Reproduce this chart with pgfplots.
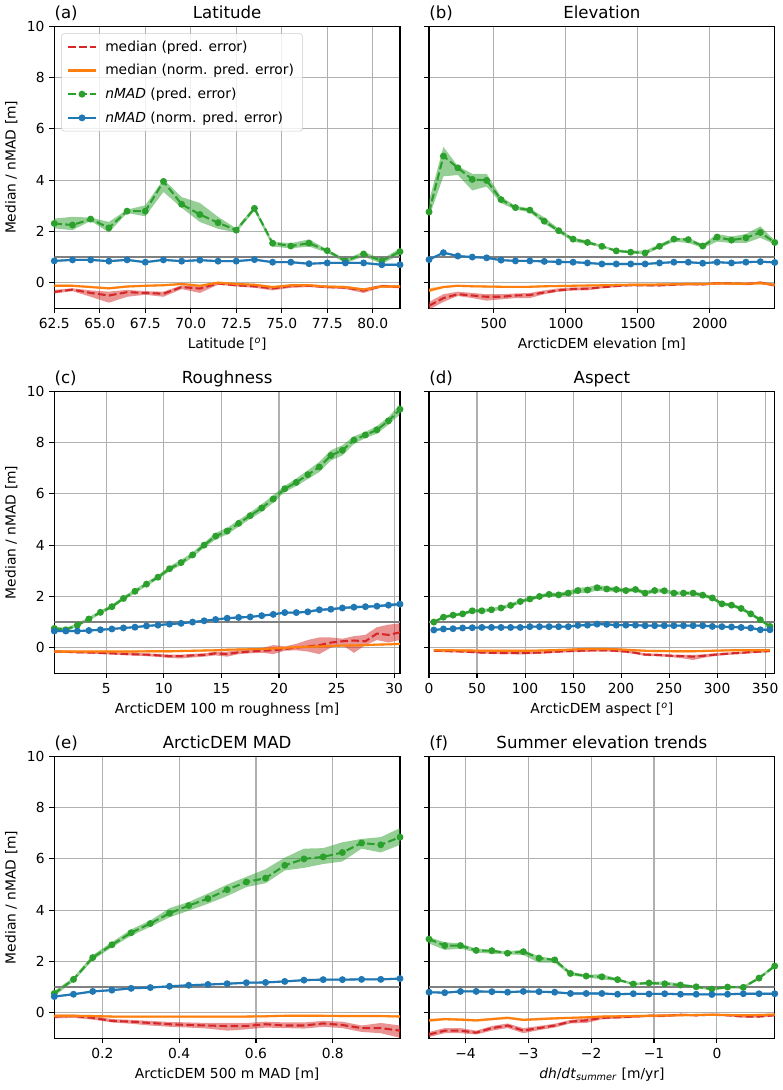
\documentclass[border=0pt]{standalone}
\usepackage{pgfplots}
\pgfplotsset{compat=1.18}
\usepackage{pgfplotstable}
\usepgfplotslibrary{fillbetween}
\usepackage{fontspec}
\setmainfont{DejaVu Sans}

\definecolor{tred}{HTML}{D62728}
\definecolor{torange}{HTML}{FF7F0E}
\definecolor{tgreen}{HTML}{2CA02C}
\definecolor{tblue}{HTML}{1F77B4}

% columns: x, median(pred) lo hi, median(norm) lo hi, nMAD(pred) lo hi, nMAD(norm) lo hi
\pgfplotstableread{
x md mdl mdh mn mnl mnh g gl gh b bl bh
62.5 -0.36 -0.42 -0.28 -0.12 -0.16 -0.08 2.31 2.12 2.50 0.85 0.81 0.89
63.5 -0.27 -0.33 -0.22 -0.12 -0.16 -0.08 2.25 2.05 2.57 0.89 0.85 0.93
64.5 -0.40 -0.55 -0.30 -0.17 -0.21 -0.13 2.48 2.41 2.54 0.89 0.85 0.93
65.5 -0.50 -0.78 -0.35 -0.22 -0.26 -0.18 2.14 1.96 2.37 0.84 0.80 0.88
66.5 -0.37 -0.55 -0.28 -0.15 -0.19 -0.11 2.79 2.72 2.85 0.89 0.85 0.93
67.5 -0.40 -0.47 -0.33 -0.12 -0.16 -0.08 2.79 2.59 3.02 0.80 0.76 0.84
68.5 -0.43 -0.55 -0.35 -0.10 -0.14 -0.06 3.95 3.54 4.03 0.89 0.85 0.93
69.5 -0.17 -0.25 -0.10 -0.05 -0.09 -0.01 3.06 2.92 3.34 0.84 0.80 0.88
70.5 -0.23 -0.40 -0.15 -0.12 -0.16 -0.08 2.66 2.37 3.11 0.88 0.84 0.92
71.5 -0.03 -0.08 0.02 0.00 -0.04 0.04 2.34 2.10 2.57 0.84 0.80 0.88
72.5 -0.10 -0.15 -0.05 -0.05 -0.09 -0.01 2.05 1.96 2.12 0.84 0.80 0.88
73.5 -0.14 -0.20 -0.08 -0.08 -0.12 -0.04 2.90 2.80 2.99 0.90 0.86 0.94
74.5 -0.22 -0.30 -0.15 -0.17 -0.21 -0.13 1.54 1.41 1.60 0.80 0.76 0.84
75.5 -0.13 -0.20 -0.08 -0.10 -0.14 -0.06 1.43 1.34 1.54 0.80 0.76 0.84
76.5 -0.12 -0.17 -0.07 -0.10 -0.14 -0.06 1.54 1.41 1.69 0.74 0.70 0.78
77.5 -0.17 -0.22 -0.12 -0.15 -0.19 -0.11 1.25 1.17 1.30 0.77 0.73 0.81
78.5 -0.19 -0.25 -0.13 -0.17 -0.21 -0.13 0.85 0.76 0.92 0.77 0.73 0.81
79.5 -0.31 -0.40 -0.22 -0.27 -0.31 -0.23 1.12 1.02 1.21 0.77 0.73 0.81
80.5 -0.13 -0.18 -0.08 -0.15 -0.19 -0.11 0.85 0.74 0.92 0.70 0.66 0.74
81.5 -0.17 -0.22 -0.12 -0.15 -0.19 -0.11 1.21 1.08 1.34 0.70 0.66 0.74
}\tA

\pgfplotstableread{
x md mdl mdh mn mnl mnh g gl gh b bl bh
50 -0.90 -1.05 -0.75 -0.30 -0.38 -0.22 2.76 2.55 3.20 0.90 0.86 0.94
150 -0.60 -0.75 -0.45 -0.17 -0.21 -0.13 4.94 4.15 5.30 1.17 1.13 1.21
250 -0.45 -0.52 -0.35 -0.12 -0.16 -0.08 4.48 4.20 4.55 1.04 1.00 1.08
350 -0.50 -0.60 -0.40 -0.14 -0.18 -0.10 4.03 3.60 4.25 1.00 0.96 1.04
450 -0.55 -0.70 -0.45 -0.15 -0.19 -0.11 3.99 3.75 4.25 0.97 0.93 1.01
550 -0.55 -0.65 -0.45 -0.16 -0.20 -0.12 3.24 3.10 3.35 0.88 0.84 0.92
650 -0.50 -0.60 -0.42 -0.16 -0.20 -0.12 2.93 2.85 3.00 0.85 0.81 0.89
750 -0.48 -0.60 -0.40 -0.16 -0.20 -0.12 2.83 2.75 2.90 0.85 0.81 0.89
850 -0.38 -0.45 -0.30 -0.14 -0.18 -0.10 2.40 2.30 2.55 0.83 0.79 0.87
950 -0.30 -0.35 -0.22 -0.13 -0.17 -0.09 2.03 1.95 2.10 0.81 0.77 0.85
1050 -0.25 -0.30 -0.18 -0.12 -0.16 -0.08 1.70 1.60 1.75 0.80 0.76 0.84
1150 -0.23 -0.30 -0.18 -0.11 -0.15 -0.07 1.57 1.50 1.65 0.77 0.73 0.81
1250 -0.18 -0.22 -0.13 -0.10 -0.14 -0.06 1.42 1.38 1.46 0.73 0.69 0.77
1350 -0.13 -0.17 -0.10 -0.09 -0.13 -0.05 1.24 1.20 1.30 0.73 0.69 0.77
1450 -0.10 -0.13 -0.07 -0.08 -0.12 -0.04 1.19 1.15 1.25 0.73 0.69 0.77
1550 -0.10 -0.14 -0.07 -0.08 -0.12 -0.04 1.16 1.10 1.25 0.73 0.69 0.77
1650 -0.10 -0.15 -0.07 -0.07 -0.11 -0.03 1.42 1.35 1.50 0.77 0.73 0.81
1750 -0.08 -0.12 -0.04 -0.06 -0.10 -0.02 1.70 1.60 1.75 0.80 0.76 0.84
1850 -0.05 -0.10 -0.02 -0.05 -0.09 -0.01 1.68 1.55 1.75 0.80 0.76 0.84
1950 -0.07 -0.10 -0.03 -0.05 -0.09 -0.01 1.43 1.35 1.50 0.76 0.72 0.80
2050 -0.02 -0.06 0.02 -0.03 -0.07 0.01 1.78 1.60 1.90 0.80 0.76 0.84
2150 -0.03 -0.06 0.00 -0.04 -0.08 0.00 1.66 1.55 1.80 0.77 0.73 0.81
2250 -0.05 -0.10 -0.02 -0.04 -0.08 0.00 1.75 1.55 1.90 0.80 0.76 0.84
2350 0.00 -0.05 0.05 -0.02 -0.06 0.02 1.96 1.75 2.20 0.82 0.78 0.86
2450 -0.10 -0.15 -0.05 -0.08 -0.12 -0.04 1.57 1.50 1.65 0.79 0.75 0.83
}\tB

\pgfplotstableread{
x md mdl mdh mn mnl mnh g gl gh b bl bh
0.5 -0.15 -0.20 -0.10 -0.15 -0.20 -0.10 0.75 0.68 0.82 0.65 0.61 0.69
1.5 -0.16 -0.20 -0.12 -0.15 -0.19 -0.11 0.70 0.64 0.78 0.65 0.61 0.69
2.5 -0.18 -0.22 -0.14 -0.15 -0.19 -0.11 0.88 0.82 0.95 0.65 0.61 0.69
3.5 -0.19 -0.23 -0.15 -0.15 -0.19 -0.11 1.12 1.05 1.19 0.67 0.63 0.71
4.5 -0.20 -0.25 -0.16 -0.15 -0.19 -0.11 1.38 1.31 1.45 0.70 0.66 0.74
5.5 -0.22 -0.27 -0.18 -0.15 -0.19 -0.11 1.60 1.53 1.68 0.73 0.69 0.77
6.5 -0.24 -0.29 -0.20 -0.15 -0.19 -0.11 1.92 1.85 2.00 0.77 0.73 0.81
7.5 -0.26 -0.31 -0.21 -0.15 -0.19 -0.11 2.20 2.12 2.28 0.80 0.76 0.84
8.5 -0.27 -0.33 -0.22 -0.14 -0.18 -0.10 2.48 2.40 2.56 0.85 0.81 0.89
9.5 -0.30 -0.36 -0.24 -0.14 -0.18 -0.10 2.75 2.67 2.83 0.88 0.84 0.92
10.5 -0.33 -0.40 -0.27 -0.14 -0.18 -0.10 3.08 2.98 3.18 0.92 0.88 0.96
11.5 -0.33 -0.42 -0.27 -0.13 -0.17 -0.09 3.32 3.22 3.42 0.95 0.91 0.99
12.5 -0.30 -0.38 -0.24 -0.12 -0.16 -0.08 3.62 3.52 3.72 1.00 0.96 1.04
13.5 -0.28 -0.35 -0.22 -0.11 -0.15 -0.07 4.00 3.90 4.10 1.05 1.01 1.09
14.5 -0.22 -0.30 -0.15 -0.10 -0.14 -0.06 4.35 4.22 4.48 1.10 1.06 1.14
15.5 -0.25 -0.35 -0.15 -0.08 -0.12 -0.04 4.55 4.42 4.68 1.15 1.11 1.19
16.5 -0.18 -0.25 -0.10 -0.07 -0.11 -0.03 4.85 4.72 4.98 1.18 1.14 1.22
17.5 -0.15 -0.22 -0.08 -0.06 -0.10 -0.02 5.15 5.02 5.28 1.20 1.16 1.24
18.5 -0.12 -0.20 -0.02 -0.05 -0.09 -0.01 5.45 5.30 5.60 1.25 1.21 1.29
19.5 -0.10 -0.25 0.10 -0.03 -0.07 0.01 5.80 5.65 5.95 1.30 1.26 1.34
20.5 -0.05 -0.12 0.05 -0.01 -0.05 0.03 6.20 6.08 6.32 1.37 1.33 1.41
21.5 0.00 -0.10 0.15 0.02 -0.02 0.06 6.45 6.30 6.60 1.37 1.33 1.41
22.5 0.05 -0.15 0.30 0.04 0.00 0.08 6.75 6.58 6.92 1.40 1.36 1.44
23.5 0.10 -0.25 0.40 0.05 0.01 0.09 7.05 6.85 7.25 1.48 1.43 1.53
24.5 0.20 0.00 0.40 0.07 0.03 0.11 7.50 7.30 7.70 1.50 1.45 1.55
25.5 0.25 0.10 0.35 0.08 0.04 0.12 7.70 7.50 7.90 1.55 1.50 1.60
26.5 0.28 -0.20 0.45 0.09 0.05 0.13 8.10 7.95 8.25 1.58 1.53 1.63
27.5 0.25 0.10 0.50 0.10 0.06 0.14 8.30 8.18 8.42 1.60 1.55 1.65
28.5 0.55 0.30 0.80 0.12 0.08 0.16 8.50 8.35 8.65 1.62 1.57 1.67
29.5 0.50 0.20 0.90 0.13 0.09 0.17 8.85 8.70 9.00 1.66 1.60 1.72
30.5 0.60 0.30 0.95 0.15 0.11 0.19 9.30 9.10 9.50 1.70 1.64 1.76
}\tC

\pgfplotstableread{
x md mdl mdh mn mnl mnh g gl gh b bl bh
5 -0.12 -0.16 -0.08 -0.10 -0.14 -0.06 1.00 0.95 1.05 0.69 0.65 0.73
15 -0.13 -0.17 -0.09 -0.10 -0.14 -0.06 1.19 1.13 1.25 0.73 0.69 0.77
25 -0.14 -0.18 -0.10 -0.10 -0.14 -0.06 1.27 1.21 1.33 0.74 0.70 0.78
35 -0.15 -0.19 -0.11 -0.11 -0.15 -0.07 1.32 1.26 1.38 0.77 0.73 0.81
45 -0.17 -0.21 -0.13 -0.11 -0.15 -0.07 1.44 1.37 1.50 0.78 0.74 0.82
55 -0.19 -0.23 -0.15 -0.12 -0.16 -0.08 1.44 1.37 1.51 0.79 0.75 0.83
65 -0.20 -0.24 -0.16 -0.12 -0.16 -0.08 1.48 1.41 1.55 0.79 0.75 0.83
75 -0.21 -0.25 -0.17 -0.12 -0.16 -0.08 1.55 1.48 1.62 0.79 0.75 0.83
85 -0.21 -0.25 -0.17 -0.12 -0.16 -0.08 1.65 1.58 1.72 0.79 0.75 0.83
95 -0.21 -0.26 -0.17 -0.12 -0.16 -0.08 1.80 1.73 1.87 0.79 0.75 0.83
105 -0.20 -0.25 -0.16 -0.12 -0.16 -0.08 1.90 1.83 1.97 0.82 0.78 0.86
115 -0.19 -0.24 -0.15 -0.11 -0.15 -0.07 2.00 1.93 2.07 0.82 0.78 0.86
125 -0.17 -0.22 -0.13 -0.10 -0.14 -0.06 2.08 2.00 2.15 0.82 0.78 0.86
135 -0.15 -0.20 -0.11 -0.09 -0.13 -0.05 2.06 1.98 2.14 0.82 0.78 0.86
145 -0.13 -0.18 -0.09 -0.08 -0.12 -0.04 2.13 2.04 2.22 0.82 0.78 0.86
155 -0.12 -0.17 -0.08 -0.06 -0.10 -0.02 2.23 2.12 2.34 0.87 0.83 0.91
165 -0.11 -0.16 -0.07 -0.05 -0.09 -0.01 2.25 2.14 2.36 0.88 0.84 0.92
175 -0.10 -0.15 -0.06 -0.05 -0.09 -0.01 2.34 2.23 2.45 0.92 0.88 0.96
185 -0.10 -0.15 -0.06 -0.05 -0.09 -0.01 2.29 2.19 2.39 0.91 0.87 0.95
195 -0.12 -0.17 -0.08 -0.06 -0.10 -0.02 2.27 2.18 2.36 0.88 0.84 0.92
205 -0.15 -0.20 -0.11 -0.08 -0.12 -0.04 2.23 2.15 2.31 0.88 0.84 0.92
215 -0.20 -0.25 -0.15 -0.10 -0.14 -0.06 2.27 2.19 2.35 0.88 0.84 0.92
225 -0.27 -0.32 -0.22 -0.12 -0.16 -0.08 2.13 2.05 2.21 0.86 0.82 0.90
235 -0.28 -0.33 -0.23 -0.13 -0.17 -0.09 2.23 2.15 2.31 0.86 0.82 0.90
245 -0.30 -0.35 -0.25 -0.13 -0.17 -0.09 2.22 2.14 2.30 0.86 0.82 0.90
255 -0.32 -0.38 -0.27 -0.14 -0.18 -0.10 2.13 2.06 2.20 0.86 0.82 0.90
265 -0.33 -0.42 -0.28 -0.14 -0.18 -0.10 2.13 2.06 2.20 0.86 0.82 0.90
275 -0.35 -0.48 -0.28 -0.14 -0.18 -0.10 2.13 2.06 2.20 0.86 0.82 0.90
285 -0.32 -0.40 -0.26 -0.13 -0.17 -0.09 2.05 1.98 2.12 0.86 0.82 0.90
295 -0.28 -0.34 -0.23 -0.12 -0.16 -0.08 1.94 1.87 2.01 0.83 0.79 0.87
305 -0.25 -0.30 -0.20 -0.11 -0.15 -0.07 1.71 1.64 1.78 0.82 0.78 0.86
315 -0.22 -0.27 -0.18 -0.10 -0.14 -0.06 1.66 1.59 1.73 0.81 0.77 0.85
325 -0.20 -0.25 -0.16 -0.10 -0.14 -0.06 1.53 1.46 1.60 0.79 0.75 0.83
335 -0.17 -0.22 -0.13 -0.10 -0.14 -0.06 1.32 1.25 1.39 0.77 0.73 0.81
345 -0.15 -0.20 -0.11 -0.10 -0.14 -0.06 1.09 1.03 1.15 0.70 0.66 0.74
355 -0.13 -0.17 -0.09 -0.10 -0.14 -0.06 0.83 0.77 0.89 0.70 0.66 0.74
}\tD

\pgfplotstableread{
x md mdl mdh mn mnl mnh g gl gh b bl bh
0.075 -0.15 -0.22 -0.08 -0.12 -0.16 -0.08 0.75 0.65 0.85 0.63 0.59 0.67
0.125 -0.13 -0.20 -0.07 -0.12 -0.16 -0.08 1.30 1.22 1.38 0.72 0.68 0.76
0.175 -0.20 -0.27 -0.13 -0.13 -0.17 -0.09 2.15 2.05 2.25 0.83 0.79 0.87
0.225 -0.32 -0.38 -0.25 -0.15 -0.19 -0.11 2.65 2.55 2.75 0.88 0.84 0.92
0.275 -0.35 -0.43 -0.28 -0.15 -0.19 -0.11 3.12 3.00 3.25 0.95 0.91 0.99
0.325 -0.40 -0.50 -0.32 -0.15 -0.19 -0.11 3.48 3.35 3.60 0.98 0.94 1.02
0.375 -0.45 -0.55 -0.36 -0.15 -0.19 -0.11 3.88 3.72 4.08 1.03 0.99 1.07
0.425 -0.48 -0.58 -0.38 -0.15 -0.19 -0.11 4.18 3.98 4.32 1.07 1.03 1.11
0.475 -0.50 -0.62 -0.40 -0.15 -0.19 -0.11 4.45 4.25 4.65 1.10 1.06 1.14
0.525 -0.52 -0.70 -0.40 -0.15 -0.19 -0.11 4.80 4.55 5.00 1.13 1.09 1.17
0.575 -0.52 -0.65 -0.40 -0.15 -0.19 -0.11 5.10 4.90 5.30 1.17 1.13 1.21
0.625 -0.45 -0.58 -0.35 -0.14 -0.18 -0.10 5.25 5.05 5.60 1.18 1.14 1.22
0.675 -0.50 -0.60 -0.38 -0.12 -0.16 -0.08 5.75 5.55 6.05 1.22 1.18 1.26
0.725 -0.50 -0.62 -0.38 -0.12 -0.16 -0.08 6.00 5.65 6.40 1.27 1.23 1.31
0.775 -0.42 -0.55 -0.32 -0.12 -0.16 -0.08 6.08 5.80 6.42 1.29 1.25 1.33
0.825 -0.48 -0.60 -0.35 -0.13 -0.17 -0.09 6.25 5.90 6.65 1.29 1.25 1.33
0.875 -0.60 -0.75 -0.50 -0.13 -0.17 -0.09 6.62 6.40 6.78 1.30 1.26 1.34
0.925 -0.60 -0.80 -0.40 -0.13 -0.17 -0.09 6.55 6.25 6.85 1.30 1.26 1.34
0.975 -0.70 -0.98 -0.50 -0.15 -0.19 -0.11 6.85 6.55 7.20 1.33 1.29 1.37
}\tE

\pgfplotstableread{
x md mdl mdh mn mnl mnh g gl gh b bl bh
-4.58 -0.85 -0.95 -0.75 -0.30 -0.36 -0.24 2.87 2.70 2.95 0.80 0.76 0.84
-4.33 -0.70 -0.80 -0.60 -0.25 -0.30 -0.20 2.62 2.45 2.75 0.78 0.74 0.82
-4.08 -0.70 -0.80 -0.60 -0.27 -0.32 -0.22 2.62 2.50 2.70 0.83 0.79 0.87
-3.83 -0.78 -0.85 -0.70 -0.30 -0.35 -0.25 2.43 2.35 2.50 0.83 0.79 0.87
-3.58 -0.60 -0.70 -0.52 -0.25 -0.30 -0.20 2.42 2.30 2.45 0.82 0.78 0.86
-3.33 -0.50 -0.60 -0.42 -0.20 -0.25 -0.15 2.32 2.28 2.40 0.80 0.76 0.84
-3.08 -0.70 -0.80 -0.60 -0.28 -0.33 -0.23 2.38 2.25 2.45 0.83 0.79 0.87
-2.83 -0.60 -0.68 -0.52 -0.25 -0.30 -0.20 2.13 1.95 2.20 0.82 0.78 0.86
-2.58 -0.50 -0.58 -0.43 -0.22 -0.27 -0.17 2.06 1.95 2.10 0.80 0.76 0.84
-2.33 -0.35 -0.42 -0.28 -0.20 -0.24 -0.16 1.53 1.45 1.60 0.75 0.71 0.79
-2.08 -0.30 -0.40 -0.22 -0.18 -0.22 -0.14 1.43 1.38 1.48 0.75 0.71 0.79
-1.83 -0.20 -0.26 -0.15 -0.15 -0.19 -0.11 1.40 1.30 1.50 0.75 0.71 0.79
-1.58 -0.18 -0.23 -0.13 -0.14 -0.18 -0.10 1.29 1.24 1.34 0.72 0.68 0.76
-1.33 -0.15 -0.20 -0.11 -0.13 -0.17 -0.09 1.12 1.07 1.17 0.74 0.70 0.78
-1.08 -0.12 -0.17 -0.08 -0.12 -0.16 -0.08 1.16 1.10 1.20 0.73 0.69 0.77
-0.83 -0.12 -0.17 -0.08 -0.11 -0.15 -0.07 1.13 1.07 1.22 0.74 0.70 0.78
-0.58 -0.08 -0.12 -0.04 -0.10 -0.14 -0.06 1.08 1.03 1.13 0.72 0.68 0.76
-0.33 -0.10 -0.14 -0.06 -0.09 -0.13 -0.05 1.01 0.96 1.06 0.72 0.68 0.76
-0.08 -0.08 -0.12 -0.04 -0.08 -0.12 -0.04 0.92 0.87 0.97 0.71 0.67 0.75
0.17 -0.10 -0.14 -0.06 -0.09 -0.13 -0.05 1.00 0.95 1.05 0.72 0.68 0.76
0.42 -0.15 -0.19 -0.11 -0.10 -0.14 -0.06 0.99 0.94 1.04 0.74 0.70 0.78
0.67 -0.15 -0.19 -0.11 -0.09 -0.13 -0.05 1.35 1.29 1.41 0.74 0.70 0.78
0.92 -0.10 -0.14 -0.06 -0.07 -0.11 -0.03 1.82 1.75 1.89 0.74 0.70 0.78
}\tF

\pgfplotsset{
  redline/.style={tred, line width=1.5bp, dash pattern=on 5.55bp off 2.4bp, mark=none},
  orangeline/.style={torange, line width=1.5bp, solid, mark=none},
  greenline/.style={tgreen, line width=1.5bp, dash pattern=on 5.55bp off 2.4bp, mark=*, mark size=1.7bp, mark options={solid, draw=tgreen, fill=tgreen}},
  blueline/.style={tblue, line width=1.5bp, solid, mark=*, mark size=1.7bp, mark options={solid, draw=tblue, fill=tblue}},
  every axis title/.style={at={(0.5,1)}, anchor=base, yshift=6bp, inner sep=0pt, font=\fontsize{12}{14}\selectfont},
  pan/.style={
    scale only axis, width=248.9bp, height=203bp, anchor=south west,
    ymin=-1, ymax=10, ytick={0,2,4,6,8,10},
    axis line style={line width=0.8bp, black},
    xtick pos=left, ytick pos=left,
    tick align=outside, major tick length=3.5bp,
    every tick/.style={black, line width=0.8bp},
    grid=major, major grid style={color=black!31, line width=0.8bp},
    ticklabel style={font=\fontsize{10}{12}\selectfont},
    label style={font=\fontsize{10}{12}\selectfont},
    clip mode=individual,
    legend image code/.code={\draw[mark repeat=2, mark phase=2, ##1] plot coordinates {(0bp,0bp) (10bp,0bp) (20bp,0bp)};},
  },
  leftpan/.style={pan, yticklabels={0,2,4,6,8,10}, ylabel={Median / nMAD [m]}},
  rightpan/.style={pan, yticklabels={,,,,,}},
}

\newcommand{\drawpanel}[4]{%
  \addplot[name path=mdl#2, draw=none, forget plot] table[x=x, y=mdl] {#1};
  \addplot[name path=mdh#2, draw=none, forget plot] table[x=x, y=mdh] {#1};
  \addplot[fill=tred, fill opacity=0.5, forget plot] fill between[of=mdl#2 and mdh#2];
  \addplot[name path=mnl#2, draw=none, forget plot] table[x=x, y=mnl] {#1};
  \addplot[name path=mnh#2, draw=none, forget plot] table[x=x, y=mnh] {#1};
  \addplot[fill=torange, fill opacity=0.5, forget plot] fill between[of=mnl#2 and mnh#2];
  \addplot[name path=gl#2, draw=none, forget plot] table[x=x, y=gl] {#1};
  \addplot[name path=gh#2, draw=none, forget plot] table[x=x, y=gh] {#1};
  \addplot[fill=tgreen, fill opacity=0.5, forget plot] fill between[of=gl#2 and gh#2];
  \addplot[name path=bl#2, draw=none, forget plot] table[x=x, y=bl] {#1};
  \addplot[name path=bh#2, draw=none, forget plot] table[x=x, y=bh] {#1};
  \addplot[fill=tblue, fill opacity=0.5, forget plot] fill between[of=bl#2 and bh#2];
  \addplot[black!50, line width=0.9bp, forget plot] coordinates {(#3,1) (#4,1)};
  \addplot[redline, forget plot] table[x=x, y=md] {#1};
  \addplot[orangeline, forget plot] table[x=x, y=mn] {#1};
  \addplot[greenline, forget plot] table[x=x, y=g] {#1};
  \addplot[blueline, forget plot] table[x=x, y=b] {#1};
}

\newcommand{\plab}[1]{\node[anchor=base west, font=\fontsize{12}{14}\selectfont, inner sep=0pt] at ([yshift=6bp]rel axis cs:0,1) {#1};}

\begin{document}
\begin{tikzpicture}

% (a)
\begin{axis}[leftpan, at={(39.1bp,562.8bp)}, title={Latitude},
  xmin=62.5, xmax=81.5,
  xtick={62.5,65,67.5,70,72.5,75,77.5,80},
  xticklabels={62.5,65.0,67.5,70.0,72.5,75.0,77.5,80.0},
  xlabel={Latitude [\textsuperscript{\textit{o}}]},
  legend style={at={(0,1)}, anchor=north west, xshift=5bp, yshift=-5bp,
    draw=black!20, rounded corners=2bp, fill=white, fill opacity=0.8, text opacity=1,
    font=\fontsize{10}{12}\selectfont, inner xsep=4bp, inner ysep=3bp, row sep=4bp, column sep=4bp},
  legend cell align=left]
\drawpanel{\tA}{a}{62.5}{81.5}
\addlegendimage{redline}
\addlegendentry{median (pred. error)}
\addlegendimage{orangeline}
\addlegendentry{median (norm. pred. error)}
\addlegendimage{greenline}
\addlegendentry{\textit{nMAD} (pred. error)}
\addlegendimage{blueline}
\addlegendentry{\textit{nMAD} (norm. pred. error)}
\plab{(a)}
\end{axis}

% (b)
\begin{axis}[rightpan, at={(308.9bp,562.8bp)}, title={Elevation},
  xmin=50, xmax=2450,
  xtick={500,1000,1500,2000}, xticklabels={500,1000,1500,2000},
  xlabel={ArcticDEM elevation [m]}]
\drawpanel{\tB}{b}{50}{2450}
\plab{(b)}
\end{axis}

% (c)
\begin{axis}[leftpan, at={(39.1bp,300.0bp)}, title={Roughness},
  xmin=0.5, xmax=30.5,
  xtick={5,10,15,20,25,30}, xticklabels={5,10,15,20,25,30},
  xlabel={ArcticDEM 100 m roughness [m]}]
\drawpanel{\tC}{c}{0.5}{30.5}
\plab{(c)}
\end{axis}

% (d)
\begin{axis}[rightpan, at={(308.9bp,300.0bp)}, title={Aspect},
  xmin=0, xmax=360,
  xtick={0,50,100,150,200,250,300,350}, xticklabels={0,50,100,150,200,250,300,350},
  xlabel={ArcticDEM aspect [\textsuperscript{\textit{o}}]}]
\drawpanel{\tD}{d}{0}{360}
\plab{(d)}
\end{axis}

% (e)
\begin{axis}[leftpan, at={(39.1bp,37.2bp)}, title={ArcticDEM MAD},
  xmin=0.075, xmax=0.975,
  xtick={0.2,0.4,0.6,0.8}, xticklabels={0.2,0.4,0.6,0.8},
  xlabel={ArcticDEM 500 m MAD [m]}]
\drawpanel{\tE}{e}{0.075}{0.975}
\plab{(e)}
\end{axis}

% (f)
\begin{axis}[rightpan, at={(308.9bp,37.2bp)}, title={Summer elevation trends},
  xmin=-4.58, xmax=0.92,
  xtick={-4,-3,-2,-1,0}, xticklabels={−4,−3,−2,−1,0},
  xlabel={\textit{dh}/\textit{dt}\textsubscript{\textit{summer}} [m/yr]}]
\drawpanel{\tF}{f}{-4.58}{0.92}
\plab{(f)}
\end{axis}

\pgfresetboundingbox
\path[use as bounding box] (0bp,0bp) rectangle (563.76bp,784.8bp);
\end{tikzpicture}
\end{document}
